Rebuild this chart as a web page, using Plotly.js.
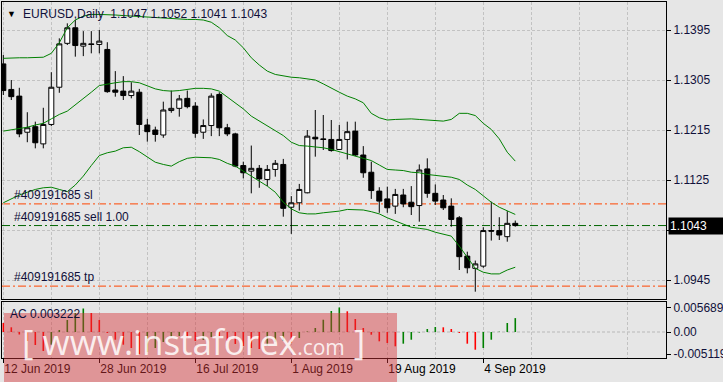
<!DOCTYPE html>
<html><head><meta charset="utf-8">
<script src="https://cdn.plot.ly/plotly-3.0.1.min.js"></script>
<style>html,body{margin:0;padding:0;background:#e6e6e6;}#chart{width:723px;height:382px;}</style>
</head><body><div id="chart"></div>
<script>
const dates = ['2019-06-12','2019-06-13','2019-06-14','2019-06-17','2019-06-18','2019-06-19','2019-06-20','2019-06-21','2019-06-24','2019-06-25',
'2019-06-26','2019-06-27','2019-06-28','2019-07-01','2019-07-02','2019-07-03','2019-07-04','2019-07-05','2019-07-08','2019-07-09',
'2019-07-10','2019-07-11','2019-07-12','2019-07-15','2019-07-16','2019-07-17','2019-07-18','2019-07-19','2019-07-22','2019-07-23',
'2019-07-24','2019-07-25','2019-07-26','2019-07-29','2019-07-30','2019-07-31','2019-08-01','2019-08-02','2019-08-05','2019-08-06',
'2019-08-07','2019-08-08','2019-08-09','2019-08-12','2019-08-13','2019-08-14','2019-08-15','2019-08-16','2019-08-19','2019-08-20',
'2019-08-21','2019-08-22','2019-08-23','2019-08-26','2019-08-27','2019-08-28','2019-08-29','2019-08-30','2019-09-02','2019-09-03',
'2019-09-04','2019-09-05','2019-09-06','2019-09-09','2019-09-10'];

const openP = [1.1334,1.1288,1.1276,1.1211,1.1221,1.1190,1.1225,1.1292,1.1371,1.1399,
1.1366,1.1370,1.1369,1.1360,1.1287,1.1285,1.1277,1.1283,1.1224,1.1215,
1.1206,1.1250,1.1254,1.1272,1.1258,1.1211,1.1223,1.1279,1.1219,1.1208,
1.1151,1.1141,1.1146,1.1126,1.1144,1.1153,1.1076,1.1084,1.1102,1.1202,
1.1199,1.1198,1.1180,1.1198,1.1213,1.1170,1.1139,1.1105,1.1091,1.1078,
1.1098,1.1085,1.1079,1.1145,1.1101,1.1089,1.1078,1.1057,1.0988,1.0966,
1.0970,1.1034,1.1034,1.1023,1.1047];
const highP = [1.1350,1.1305,1.1291,1.1247,1.1230,1.1255,1.1319,1.1380,1.1407,1.1413,
1.1393,1.1393,1.1395,1.1373,1.1321,1.1312,1.1301,1.1289,1.1235,1.1221,
1.1266,1.1286,1.1278,1.1286,1.1265,1.1234,1.1281,1.1283,1.1226,1.1210,
1.1158,1.1187,1.1152,1.1152,1.1161,1.1163,1.1096,1.1118,1.1215,1.1251,
1.1242,1.1233,1.1224,1.1230,1.1230,1.1186,1.1158,1.1112,1.1113,1.1109,
1.1109,1.1114,1.1153,1.1164,1.1117,1.1098,1.1092,1.1060,1.0996,1.0980,
1.1040,1.1086,1.1058,1.1069,1.1052];
const lowP = [1.1278,1.1269,1.1202,1.1193,1.1182,1.1182,1.1222,1.1282,1.1368,1.1347,
1.1348,1.1353,1.1353,1.1282,1.1275,1.1269,1.1272,1.1206,1.1194,1.1194,
1.1201,1.1246,1.1239,1.1254,1.1201,1.1199,1.1204,1.1204,1.1204,1.1148,
1.1128,1.1101,1.1111,1.1114,1.1131,1.1059,1.1028,1.1070,1.1101,1.1167,
1.1179,1.1176,1.1179,1.1162,1.1168,1.1129,1.1091,1.1066,1.1066,1.1064,
1.1076,1.1062,1.1050,1.1093,1.1080,1.1071,1.1041,1.0963,1.0957,1.0924,
1.0967,1.1016,1.1017,1.1014,1.1041];
const closeP = [1.1286,1.1275,1.1208,1.1219,1.1192,1.1225,1.1292,1.1370,1.1399,1.1367,
1.1371,1.1369,1.1375,1.1284,1.1283,1.1277,1.1285,1.1225,1.1212,1.1207,
1.1251,1.1254,1.1271,1.1257,1.1209,1.1223,1.1276,1.1219,1.1208,1.1150,
1.1138,1.1146,1.1127,1.1144,1.1155,1.1074,1.1084,1.1108,1.1204,1.1199,
1.1198,1.1178,1.1198,1.1212,1.1170,1.1138,1.1106,1.1087,1.1075,1.1099,
1.1082,1.1077,1.1143,1.1101,1.1087,1.1075,1.1054,1.0987,1.0967,1.0974,
1.1034,1.1033,1.1026,1.1047,1.1043];

const upperBand = [1.1344,1.1345,1.1345,1.1345,1.1345,1.1346,1.1353,1.1372,1.1399,1.1413,
1.1420,1.1423,1.1423,1.1423,1.1422,1.1421,1.1420,1.1419,1.1418,1.1417,
1.1416,1.1415,1.1415,1.1414,1.1414,1.1413,1.1409,1.1399,1.1385,1.1377,
1.1363,1.1345,1.1332,1.1321,1.1315,1.1312,1.1310,1.1309,1.1307,1.1305,
1.1298,1.1290,1.1283,1.1276,1.1271,1.1264,1.1245,1.1237,1.1233,1.1234,
1.1235,1.1235,1.1234,1.1233,1.1232,1.1231,1.1234,1.1245,1.1245,1.1241,
1.1227,1.1216,1.1199,1.1175,1.1159];
const middleBand = [1.1213,1.1215,1.1218,1.1220,1.1224,1.1227,1.1235,1.1243,1.1249,1.1260,
1.1272,1.1283,1.1295,1.1298,1.1300,1.1302,1.1302,1.1300,1.1295,1.1289,
1.1286,1.1285,1.1286,1.1288,1.1290,1.1290,1.1289,1.1285,1.1274,1.1264,
1.1253,1.1240,1.1231,1.1223,1.1213,1.1205,1.1193,1.1187,1.1186,1.1185,
1.1183,1.1180,1.1176,1.1173,1.1169,1.1165,1.1160,1.1152,1.1144,1.1143,
1.1142,1.1139,1.1138,1.1135,1.1133,1.1131,1.1130,1.1126,1.1116,1.1108,
1.1096,1.1085,1.1076,1.1069,1.1063];
const lowerBand = [1.1084,1.1091,1.1098,1.1103,1.1108,1.1111,1.1112,1.1108,1.1104,1.1116,
1.1132,1.1151,1.1169,1.1174,1.1177,1.1183,1.1184,1.1176,1.1166,1.1157,
1.1153,1.1150,1.1158,1.1164,1.1166,1.1166,1.1165,1.1162,1.1155,1.1150,
1.1141,1.1132,1.1122,1.1114,1.1103,1.1085,1.1073,1.1066,1.1064,1.1064,
1.1066,1.1067,1.1069,1.1072,1.1072,1.1071,1.1068,1.1064,1.1057,1.1051,
1.1045,1.1040,1.1038,1.1036,1.1031,1.1027,1.1024,1.1006,1.0985,1.0966,
1.0959,1.0956,1.0956,1.0963,1.0968];

const acValues = [0.00209,0.00109,-0.00058,-0.00209,-0.00302,-0.00441,-0.00295,0.00046,0.00278,0.00441,
0.00545,0.00441,0.00278,-0.00023,-0.00179,-0.00295,-0.00371,-0.005119,-0.00464,-0.00371,
-0.00232,-0.00116,-0.00093,-0.00139,-0.00209,-0.00186,-0.00116,-0.00139,-0.00209,-0.00278,
-0.00325,-0.00371,-0.00394,-0.00325,-0.00232,-0.00209,-0.00255,-0.00139,0.00012,0.00093,
0.00285,0.00487,0.005689,0.00480,0.00302,0.00093,-0.00063,-0.00216,-0.00255,-0.00332,
-0.00271,-0.00179,-0.00012,0.00070,0.00116,0.00109,0.00070,-0.00023,-0.00271,-0.00411,
-0.00371,-0.00179,0.00007,0.00209,0.003222];

const tickIdx = [0,12,24,36,48,60];
const tickLabels = ['12 Jun 2019','28 Jun 2019','16 Jul 2019','1 Aug 2019','19 Aug 2019','4 Sep 2019'];
const priceTicks = [1.1395,1.1305,1.1215,1.1125,1.1035,1.0945];
const acTicks = [0.005689,0,-0.005119];
const acTickText = ['0.005689','0.00','-0.005119'];
const slPrice = 1.1082, sellPrice = 1.1043, tpPrice = 1.0934;
const orderLabels = ['#409191685 sl','#409191685 sell 1.00','#409191685 tp'];
const headerSymbol = 'EURUSD,Daily';
const headerOHLC = [1.1047,1.1052,1.1041,1.1043];
const acCurrent = 0.003222;
const lastPrice = 1.1043;

const x = dates.map((d,i)=>i);
const green = '#008000', red = '#ff0000';
const gridColor = '#c2c2c2', gridDash = '3px,2px';
const FONT = 'Liberation Sans, Arial, sans-serif';

const band = (y)=>({type:'scatter',mode:'lines',x:x,y:y,xaxis:'x',yaxis:'y',line:{color:green,width:1},hoverinfo:'skip'});
const traces = [
  band(upperBand), band(middleBand), band(lowerBand),
  {type:'candlestick',x:x,open:openP,high:highP,low:lowP,close:closeP,xaxis:'x',yaxis:'y',whiskerwidth:0,
   increasing:{line:{color:'#000',width:1},fillcolor:'#ffffff'},
   decreasing:{line:{color:'#000',width:1},fillcolor:'#000000'},hoverinfo:'skip'},
  {type:'bar',x:x,y:acValues,xaxis:'x2',yaxis:'y2',width:0.2,
   marker:{color:acValues.map((v,i)=> i>0 && v>acValues[i-1] ? green : red),line:{width:0}},hoverinfo:'skip'}
];

const hline = (p,color)=>({type:'line',xref:'paper',x0:0,x1:1,yref:'y',y0:p,y1:p,layer:'below',
  line:{color:color,width:1,dash:'8px,3px,2px,3px'}});

const layout = {
  width:723,height:382,margin:{l:2,r:57,t:2,b:24},
  paper_bgcolor:'#e6e6e6',plot_bgcolor:'#e6e6e6',showlegend:false,
  font:{family:FONT,size:12,color:'#000'},
  boxgap:0.375,boxgroupgap:0,
  xaxis:{domain:[0,1],anchor:'y',range:[-0.1625,82.84],tickmode:'linear',tick0:0,dtick:6,
    showticklabels:false,ticks:'',showgrid:true,gridcolor:gridColor,griddash:gridDash,
    showline:true,mirror:true,linecolor:'#000',linewidth:1,zeroline:false,rangeslider:{visible:false}},
  yaxis:{domain:[0.1671,1],anchor:'x',side:'right',range:[1.09117,1.14454],tickmode:'array',
    tickvals:priceTicks,ticktext:priceTicks.map(v=>v.toFixed(4)),ticks:'outside',ticklen:4,tickcolor:'#000',
    tickfont:{color:'#10103a'},
    showgrid:true,gridcolor:gridColor,griddash:gridDash,showline:true,mirror:true,linecolor:'#000',zeroline:false},
  xaxis2:{domain:[0,1],anchor:'y2',matches:'x',tickmode:'array',tickvals:tickIdx,ticktext:tickLabels,
    ticks:'outside',ticklen:4,tickcolor:'#000',ticklabelposition:'outside right',
    showgrid:true,gridcolor:gridColor,griddash:gridDash,
    minor:{tickmode:'array',tickvals:[6,18,30,42,54,66,78],showgrid:true,gridcolor:gridColor,griddash:gridDash,ticks:''},
    showline:true,mirror:true,linecolor:'#000',zeroline:false},
  yaxis2:{domain:[0,0.1573],anchor:'x2',side:'right',range:[-0.006032,0.00696],tickmode:'array',
    tickvals:acTicks,ticktext:acTickText,ticks:'outside',ticklen:4,tickcolor:'#000',showgrid:false,
    tickfont:{color:'#10103a'},
    showline:true,mirror:true,linecolor:'#000',zeroline:false},
  shapes:[
    hline(slPrice,'#ff4500'), hline(sellPrice,'#006400'), hline(tpPrice,'#ff4500'),
    {type:'line',xref:'paper',x0:0,x1:1,yref:'y2',y0:0,y1:0,layer:'below',line:{color:'#b8b8b8',width:1,dash:gridDash}},
    {type:'rect',xref:'paper',yref:'paper',x0:0.003,x1:0.5949,y0:-0.0674,y1:0.1264,layer:'above',
      fillcolor:'rgba(216,52,55,0.45)',line:{width:0}}
  ],
  annotations:[
    {xref:'paper',yref:'paper',x:0.0136,y:1,yshift:-5,xanchor:'center',yanchor:'top',showarrow:false,text:'\u25BC',font:{size:9,color:'#000'}},
    {xref:'paper',yref:'paper',x:0.0286,y:1,yshift:-3,xanchor:'left',yanchor:'top',showarrow:false,
      text:headerSymbol+'\u00a0\u00a0'+headerOHLC.map(v=>v.toFixed(4)).join('\u00a0'),font:{family:FONT,size:12,color:'#10103a'}},
    {xref:'paper',yref:'y',x:0.015,y:slPrice,xanchor:'left',yanchor:'bottom',showarrow:false,text:orderLabels[0],font:{size:12,color:'#10103a'}},
    {xref:'paper',yref:'y',x:0.015,y:sellPrice,xanchor:'left',yanchor:'bottom',showarrow:false,text:orderLabels[1],font:{size:12,color:'#10103a'}},
    {xref:'paper',yref:'y',x:0.015,y:tpPrice,xanchor:'left',yanchor:'bottom',showarrow:false,text:orderLabels[2],font:{size:12,color:'#10103a'}},
    {xref:'paper',yref:'y2 domain',x:0.009,y:1,yshift:-3,xanchor:'left',yanchor:'top',showarrow:false,text:'AC '+acCurrent.toFixed(6),font:{size:12,color:'#10103a'}},
    {xref:'paper',yref:'y',x:1.003,y:lastPrice,xanchor:'left',yanchor:'middle',showarrow:false,text:lastPrice.toFixed(4),
      width:52,align:'left',bgcolor:'#000',borderpad:1,font:{size:12,color:'#fff'}},
    {xref:'paper',yref:'paper',x:0.027,y:0.045,xanchor:'left',yanchor:'middle',showarrow:false,
      text:"[ www.instaforex<span style='font-size:21px'>.com</span> ]",font:{family:'Open Sans, sans-serif',size:35,color:'rgba(255,255,255,0.85)'}}
  ]
};
Plotly.newPlot('chart',traces,layout,{staticPlot:true,displayModeBar:false});
</script></body></html>
